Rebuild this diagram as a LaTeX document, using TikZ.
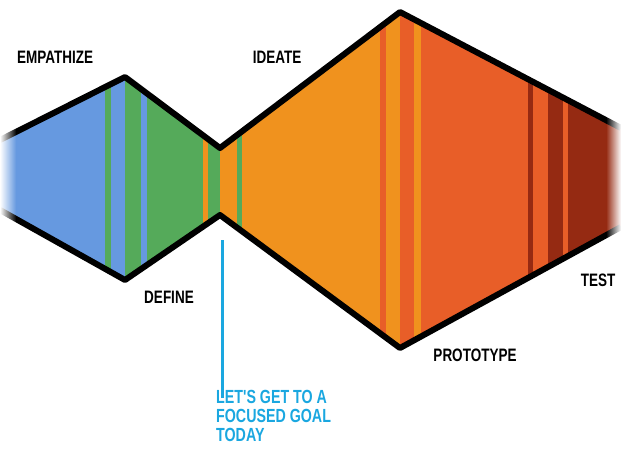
\documentclass[tikz,border=0pt]{standalone}
\usepackage{fontspec}
\usepackage{xcolor}
\usepackage{tikz}
\usetikzlibrary{fadings}
\newfontfamily\phasefont[FakeStretch=0.75]{Liberation Sans Bold}
\definecolor{empblue}{HTML}{6699E0}
\definecolor{defgreen}{HTML}{55AA5A}
\definecolor{ideaorange}{HTML}{F0921E}
\definecolor{protored}{HTML}{E85E28}
\definecolor{testred}{HTML}{952A12}
\definecolor{goalblue}{HTML}{1AA7E0}
\tikzfading[name=fadeleft, left color=transparent!0, right color=transparent!100]
\tikzfading[name=faderight, left color=transparent!100, right color=transparent!0]

\begin{document}
\begin{tikzpicture}[x=1pt, y=-1pt, every node/.style={
    rectangle,
    inner sep=0pt,
    font=\phasefont\fontsize{18}{18}\selectfont,
  }]
  \useasboundingbox (0,0) rectangle (621,451);

  % outline of the two diamonds
  \coordinate (t0) at (0,140);
  \coordinate (t1) at (125,77);
  \coordinate (t2) at (220,148);
  \coordinate (t3) at (400,12);
  \coordinate (t4) at (621,128);
  \coordinate (b0) at (0,210);
  \coordinate (b1) at (125,280);
  \coordinate (b2) at (220,215);
  \coordinate (b3) at (400,348);
  \coordinate (b4) at (621,227);

  \begin{scope}
    \clip (t0) -- (t1) -- (t2) -- (t3) -- (t4) -- (b4) -- (b3) -- (b2) -- (b1) -- (b0) -- cycle;
    \foreach \a/\b/\c in {0/105/empblue, 105/111/defgreen, 111/125/empblue,
        125/141/defgreen, 141/147/empblue, 147/203/defgreen, 203/208/ideaorange,
        208/220/defgreen, 220/237/ideaorange, 237/242/defgreen, 242/380/ideaorange,
        380/386/protored, 386/400/ideaorange, 400/414/protored, 414/421/ideaorange,
        421/528/protored, 528/533/testred, 533/548/protored, 548/563/testred,
        563/568/protored, 568/621/testred}
      \fill[\c] (\a,0) rectangle (\b,360);
  \end{scope}

  \draw[line width=6pt, line join=round] (t0) -- (t1) -- (t2) -- (t3) -- (t4);
  \draw[line width=6pt, line join=round] (b0) -- (b1) -- (b2) -- (b3) -- (b4);

  % soft ends
  \fill[white, path fading=fadeleft] (0,60) rectangle (16,300);
  \fill[white, path fading=faderight] (606,60) rectangle (621,300);

  \node (emp) at (55,57) {EMPATHIZE};
  \node (def) at (169,297) {DEFINE};
  \node (ide) at (277,57) {IDEATE};
  \node (pro) at (475,355) {PROTOTYPE};
  \node (tst) at (598,280) {TEST};

  \node[anchor=north west, align=left, text=goalblue,
    font=\phasefont\fontsize{19}{19}\selectfont] (goal) at (216,390)
    {LET'S GET TO A\\FOCUSED GOAL\\TODAY};
  \coordinate (pin) at (222,240);
  \draw[goalblue, line width=3pt] (pin) -- ([yshift=-8pt]pin |- goal.north);
\end{tikzpicture}
\end{document}
